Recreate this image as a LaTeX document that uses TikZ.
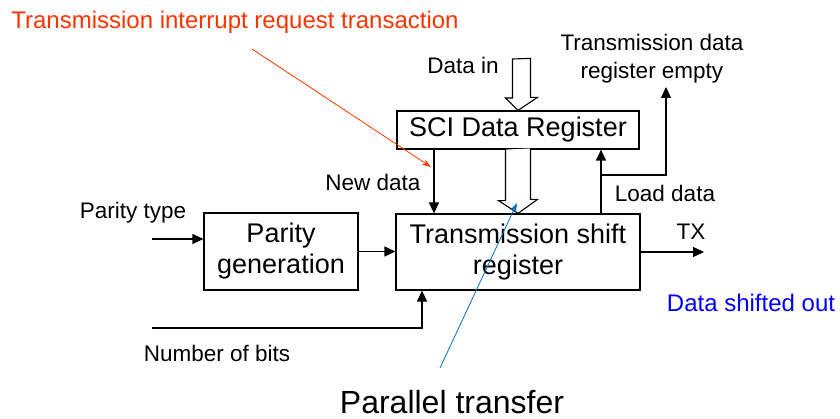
\documentclass[tikz,border=0pt]{standalone}
\usepackage{fontspec}
\setmainfont{Liberation Sans}
\usepackage{tikz}
\usetikzlibrary{arrows.meta, positioning}
\definecolor{irqred}{RGB}{255,51,0}
\definecolor{xferblue}{RGB}{0,112,192}
\definecolor{outblue}{RGB}{0,0,255}

\begin{document}
\begin{tikzpicture}[x=1pt, y=-1pt, line width=1.2pt,
    block/.style={draw=black, rectangle, inner sep=0pt, align=center, font=\fontsize{27}{31}\selectfont},
    lbl/.style={inner sep=0pt, align=center, font=\fontsize{22.5}{28}\selectfont},
    note/.style={inner sep=0pt, font=\fontsize{24}{28}\selectfont},
    sig/.style={-{Triangle[length=11pt, width=10pt]}},
    hollow/.style={draw=black, fill=white, line width=1.1pt, line join=miter}]
  \useasboundingbox (0,0) rectangle (840,419);

  \node[block, minimum width=242pt, minimum height=38pt] (sci) at (518,130) {SCI Data Register};
  \node[block, minimum width=244pt, minimum height=76pt] (shift) at (518,252) {Transmission shift\\register};
  \node[block, minimum width=154pt, minimum height=77pt] (parity) at (281,251.5) {Parity\\generation};

  \node[lbl] (ptype) at (133,213) {Parity type};
  \node[lbl] (nbits) at (217,353) {Number of bits};
  \node[lbl] (datain) at (463,65) {Data in};
  \node[lbl] (newdata) at (373,182) {New data};
  \node[lbl] (loaddata) at (665,193) {Load data};
  \node[lbl] (empty) at (652,59) {Transmission data\\register empty};
  \node[lbl] (tx) at (691,232) {TX};
  \node[note, text=outblue] (shifted) at (751,303) {Data shifted out};
  \node[note, text=irqred] (irq) at (235,22) {Transmission interrupt request transaction};
  \node[inner sep=0pt, font=\fontsize{32}{38}\selectfont] (ptrans) at (452,402) {Parallel transfer};

  \coordinate (ptin) at (152,239);
  \coordinate (nbin) at (152,328);
  \coordinate (nbx) at (422,328);
  \coordinate (ndx) at (434,182);
  \coordinate (ldbranch) at (601,175);
  \coordinate (emptytip) at (666,87);
  \coordinate (txout) at (704,252);
  \coordinate (dintop) at (525,59);
  \coordinate (irqfrom) at (252,49);
  \coordinate (irqto) at (431,167);
  \coordinate (xferfrom) at (440,368);
  \coordinate (xferto) at (517,203);

  % wide data paths
  \draw[hollow] (dintop) ++(-12.5,0) -- ++(0,39) -- ++(-7,0) -- (sci.north) -- ++(19.5,-13)
    -- ++(-7,0) -- ++(0,-39) -- cycle;
  \draw[hollow] (sci.south) ++(-12.5,0) -- ++(0,51) -- ++(-7,0) -- (shift.north) -- ++(19.5,-14)
    -- ++(-7,0) -- ++(0,-51);

  \draw[sig] (ptin) -- (parity.west |- ptin);
  \draw[sig] (parity.east) -- (shift.west |- parity.east);
  \draw[sig] (nbin) -- (nbx) -- (shift.south -| nbx);
  \draw[sig] (sci.south -| ndx) -- (shift.north -| ndx);
  \draw[sig] (shift.north -| ldbranch) -- (sci.south -| ldbranch);
  \draw[sig] (ldbranch) -| (emptytip);
  \draw[sig] (shift.east |- txout) -- (txout);

  \draw[irqred, line width=0.8pt, -{Stealth[length=9pt, width=6pt]}] (irqfrom) -- (irqto);
  \draw[xferblue, line width=0.8pt, -{Stealth[length=9pt, width=6pt]}] (xferfrom) -- (xferto);
\end{tikzpicture}
\end{document}
